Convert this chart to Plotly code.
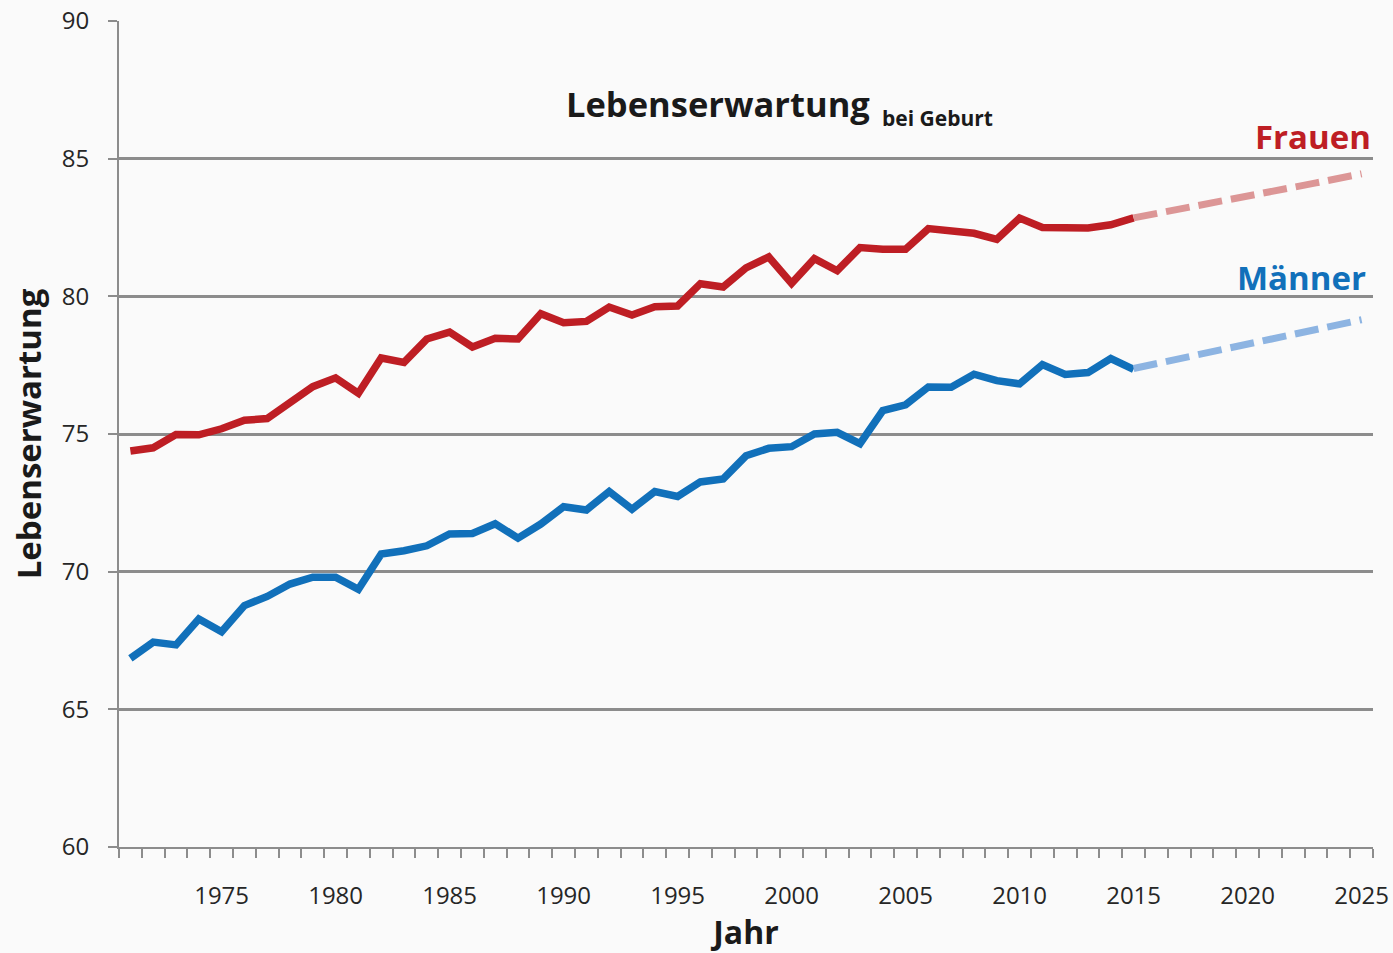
import plotly.graph_objects as go

# ---- data ----
years = list(range(1971, 2016))
frauen = [74.38, 74.5, 74.98, 74.97, 75.19, 75.5, 75.56, 76.1, 76.72, 77.04,
          76.48, 77.76, 77.6, 78.45, 78.7, 78.16, 78.48, 78.45, 79.37, 79.04,
          79.09, 79.61, 79.32, 79.62, 79.65, 80.46, 80.34, 81.03, 81.43, 80.47,
          81.37, 80.93, 81.77, 81.71, 81.71, 82.46, 82.36, 82.29, 82.07, 82.84,
          82.5, 82.48, 82.48, 82.6, 82.85]
maenner = [66.85, 67.44, 67.34, 68.28, 67.82, 68.77, 69.1, 69.55, 69.8, 69.8,
           69.36, 70.64, 70.76, 70.94, 71.37, 71.39, 71.74, 71.22, 71.73, 72.36,
           72.24, 72.91, 72.27, 72.91, 72.73, 73.26, 73.37, 74.21, 74.48, 74.54,
           75.0, 75.06, 74.65, 75.85, 76.06, 76.71, 76.7, 77.17, 76.94, 76.82,
           77.52, 77.16, 77.23, 77.74, 77.35]
proj_years = list(range(2015, 2026))
frauen_proj = [82.85, 83.0, 83.17, 83.33, 83.5, 83.65, 83.8, 83.96, 84.12, 84.28, 84.45]
maenner_proj = [77.38, 77.56, 77.74, 77.92, 78.1, 78.27, 78.45, 78.62, 78.8, 78.97, 79.15]
x_tick_years = [1975, 1980, 1985, 1990, 1995, 2000, 2005, 2010, 2015, 2020, 2025]
y_ticks = [60, 65, 70, 75, 80, 85, 90]

RED = "#BE1E24"
BLUE = "#1170BA"
RED_LIGHT = "#DC9696"
BLUE_LIGHT = "#8DB4E2"
GRID = "#8C8C8C"
FONT = "Open Sans"
TXT = "#1a1a1a"

fig = go.Figure()
fig.add_trace(go.Scatter(x=years, y=frauen, mode="lines", name="Frauen",
                         line=dict(color=RED, width=7.5)))
fig.add_trace(go.Scatter(x=years, y=maenner, mode="lines", name="Männer",
                         line=dict(color=BLUE, width=7.5)))
fig.add_trace(go.Scatter(x=proj_years, y=frauen_proj, mode="lines", name="Frauen Prognose",
                         line=dict(color=RED_LIGHT, width=7, dash="24px,9px")))
fig.add_trace(go.Scatter(x=proj_years, y=maenner_proj, mode="lines", name="Männer Prognose",
                         line=dict(color=BLUE_LIGHT, width=7, dash="24px,9px")))

fig.update_layout(
    width=1393, height=953,
    margin=dict(l=119, r=20, t=21, b=106, autoexpand=False),
    paper_bgcolor="#FAFAFA", plot_bgcolor="#FAFAFA",
    showlegend=False,
    font=dict(family=FONT, color="#262626"),
)

fig.update_xaxes(
    range=[1970.5, 2025.5],
    automargin=False,
    tickvals=x_tick_years,
    ticktext=[str(y) for y in x_tick_years],
    ticks="", ticklabelstandoff=26,
    tickfont=dict(size=24, color="#262626", family=FONT),
    showgrid=False, zeroline=False,
    showline=True, linecolor=GRID, linewidth=2,
    minor=dict(tick0=1970.5, dtick=1, ticks="outside", ticklen=9,
               tickcolor=GRID, tickwidth=2, showgrid=False),
    title=dict(text="<b>Jahr</b>", font=dict(size=32, family=FONT, color=TXT),
               standoff=8),
)
fig.update_yaxes(
    range=[60, 90],
    automargin=False,
    tickvals=y_ticks,
    ticks="outside", ticklen=9, tickcolor=GRID, tickwidth=2,
    ticklabelstandoff=14,
    tickfont=dict(size=24, color="#262626", family=FONT),
    showgrid=True, gridcolor=GRID, gridwidth=3,
    zeroline=False,
    showline=True, linecolor=GRID, linewidth=2,
    title=dict(text="<b>Lebenserwartung</b>", font=dict(size=33, family=FONT, color=TXT),
               standoff=10),
)

fig.add_annotation(xref="paper", yref="paper", x=0.6005, y=0.9007,
                   xanchor="right", yanchor="middle", showarrow=False,
                   text="<b>Lebenserwartung</b>",
                   font=dict(size=34.5, family=FONT, color=TXT))
fig.add_annotation(xref="paper", yref="paper", x=0.6069, y=0.8826,
                   xanchor="left", yanchor="middle", showarrow=False,
                   text="<b>bei Geburt</b>",
                   font=dict(size=21, family=FONT, color=TXT))
fig.add_annotation(xref="paper", yref="paper", x=1.0, y=0.8596,
                   xanchor="right", yanchor="middle", showarrow=False,
                   text="<b>Frauen</b>", font=dict(size=33, family=FONT, color=RED))
fig.add_annotation(xref="paper", yref="paper", x=0.996, y=0.6895,
                   xanchor="right", yanchor="middle", showarrow=False,
                   text="<b>Männer</b>", font=dict(size=33, family=FONT, color=BLUE))

fig.write_html("out.html", config={"displayModeBar": False},
               post_script="document.body.style.margin='0';document.body.style.overflow='hidden';")
